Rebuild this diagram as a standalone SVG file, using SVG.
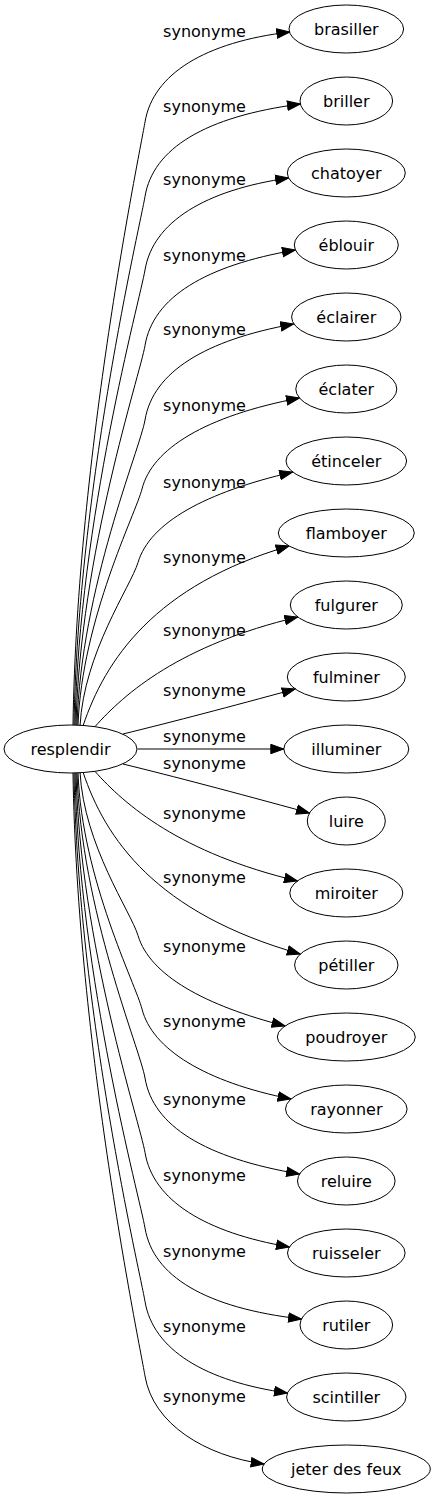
<svg xmlns="http://www.w3.org/2000/svg" width="436" height="1499" viewBox="0 0 436 1499">
<defs>
<style>
text{font-family:"DejaVu Sans","Liberation Sans",sans-serif;font-size:16px;fill:#000}
.n ellipse{fill:none;stroke:#000;stroke-width:1}
.n text{text-anchor:middle}
.e path{fill:none;stroke:#000;stroke-width:1;marker-end:url(#ah)}
.e text{text-anchor:middle}
</style>
<marker id="ah" markerUnits="userSpaceOnUse" markerWidth="14" markerHeight="11" viewBox="-0.5 -0.5 14 10.4" refX="13" refY="4.7" orient="auto">
<path d="M0,0 L13,4.7 L0,9.4 Z" fill="#000" stroke="#000" stroke-width="1"/>
</marker>
</defs>
<rect width="436" height="1499" fill="#fff"/>
<g id="connectors" class="e">
<path d="M73,725 C77,453.6 140.2,150.8 145,122 C153,74 205,42 289.8,32"/>
<text x="204.5" y="37">synonyme</text>
<path d="M74,725 C78,487.2 140.2,225.3 145,196.5 C153,148.5 205,116.5 300.4,104"/>
<text x="204.5" y="111.5">synonyme</text>
<path d="M75,725 C79,520.3 140.2,298.8 145,270 C153,222 205,190 288.6,178"/>
<text x="204.5" y="185">synonyme</text>
<path d="M76,725 C80,554.2 140.2,374.3 145,345.5 C153,297.5 205,265.5 295.4,250"/>
<text x="204.5" y="260.5">synonyme</text>
<path d="M77,725 C81,587.8 140.2,448.8 145,420 C153,372 205,340 293.7,324"/>
<text x="204.5" y="335">synonyme</text>
<path d="M78,725 C82,618.8 136,513 142,489 C152,449 205,416 299.5,398"/>
<text x="204.5" y="411">synonyme</text>
<path d="M80,726 C84,652.4 130.8,586.5 138,562.5 C150,522.5 205,492.5 292.7,472"/>
<text x="204.5" y="487.5">synonyme</text>
<path d="M83,726 C105,660 155,585 289.1,546"/>
<text x="204.5" y="562.5">synonyme</text>
<path d="M95,726.6 C125,693 180,645 297.8,617"/>
<text x="204.5" y="635.5">synonyme</text>
<path d="M123,734 C176,721 229,707 295.2,689"/>
<text x="204.5" y="696">synonyme</text>
<path d="M137.5,749 L283.8,749"/>
<text x="204.5" y="741.5">synonyme</text>
<path d="M123,764 C176,777 229,791 309.5,813"/>
<text x="204.5" y="768.8">synonyme</text>
<path d="M95,771.4 C125,805 180,853 297.4,881"/>
<text x="204.5" y="818.5">synonyme</text>
<path d="M83,772 C105,838 155,913 300.3,954"/>
<text x="204.5" y="882.5">synonyme</text>
<path d="M80,772 C84,845.6 130.8,911.5 138,935.5 C150,975.5 205,1005.5 285,1026"/>
<text x="204.5" y="951.5">synonyme</text>
<path d="M78,773 C82,879.2 136,985 142,1009 C152,1049 205,1082 291,1099"/>
<text x="204.5" y="1026.5">synonyme</text>
<path d="M77,773 C81,910.3 140.2,1049.2 145,1078 C153,1126 205,1158 299.6,1174"/>
<text x="204.5" y="1104.5">synonyme</text>
<path d="M76,773 C80,943.8 140.2,1123.7 145,1152.5 C153,1200.5 205,1232.5 289.4,1247"/>
<text x="204.5" y="1180.5">synonyme</text>
<path d="M75,773 C79,977.8 140.2,1199.2 145,1228 C153,1276 205,1308 301.5,1319"/>
<text x="204.5" y="1256.5">synonyme</text>
<path d="M74,773 C78,1010.8 140.2,1272.7 145,1301.5 C153,1349.5 205,1381.5 287.4,1393"/>
<text x="204.5" y="1331.5">synonyme</text>
<path d="M73,773 C77,1044.4 140.2,1347.2 145,1376 C153,1424 205,1456 264.1,1464"/>
<text x="204.5" y="1402">synonyme</text>
</g>
<g id="node-resplendir" class="n"><ellipse cx="70.5" cy="749" rx="66.5" ry="24"/><text x="70.5" y="754.5">resplendir</text></g>
<g id="node-brasiller" class="n"><ellipse cx="346.3" cy="29" rx="57.3" ry="24"/><text x="346.3" y="34.5">brasiller</text></g>
<g id="node-briller" class="n"><ellipse cx="346.3" cy="101" rx="46.3" ry="24"/><text x="346.3" y="106.5">briller</text></g>
<g id="node-chatoyer" class="n"><ellipse cx="346.3" cy="173" rx="59" ry="24"/><text x="346.3" y="178.5">chatoyer</text></g>
<g id="node-eblouir" class="n"><ellipse cx="346.3" cy="245" rx="52" ry="24"/><text x="346.3" y="250.5">éblouir</text></g>
<g id="node-eclairer" class="n"><ellipse cx="346.3" cy="317" rx="54.7" ry="24"/><text x="346.3" y="322.5">éclairer</text></g>
<g id="node-eclater" class="n"><ellipse cx="346.3" cy="389" rx="50.5" ry="24"/><text x="346.3" y="394.5">éclater</text></g>
<g id="node-etinceler" class="n"><ellipse cx="346.3" cy="461" rx="60.3" ry="24"/><text x="346.3" y="466.5">étinceler</text></g>
<g id="node-flamboyer" class="n"><ellipse cx="346.3" cy="533" rx="68" ry="24"/><text x="346.3" y="538.5">flamboyer</text></g>
<g id="node-fulgurer" class="n"><ellipse cx="346.3" cy="605" rx="56" ry="24"/><text x="346.3" y="610.5">fulgurer</text></g>
<g id="node-fulminer" class="n"><ellipse cx="346.3" cy="677" rx="59" ry="24"/><text x="346.3" y="682.5">fulminer</text></g>
<g id="node-illuminer" class="n"><ellipse cx="346.3" cy="749" rx="62.5" ry="24"/><text x="346.3" y="754.5">illuminer</text></g>
<g id="node-luire" class="n"><ellipse cx="346.3" cy="821" rx="39" ry="24"/><text x="346.3" y="826.5">luire</text></g>
<g id="node-miroiter" class="n"><ellipse cx="346.3" cy="893" rx="56.5" ry="24"/><text x="346.3" y="898.5">miroiter</text></g>
<g id="node-petiller" class="n"><ellipse cx="346.3" cy="965" rx="51.7" ry="24"/><text x="346.3" y="970.5">pétiller</text></g>
<g id="node-poudroyer" class="n"><ellipse cx="346.3" cy="1037" rx="69" ry="24"/><text x="346.3" y="1042.5">poudroyer</text></g>
<g id="node-rayonner" class="n"><ellipse cx="346.3" cy="1109" rx="60.8" ry="24"/><text x="346.3" y="1114.5">rayonner</text></g>
<g id="node-reluire" class="n"><ellipse cx="346.3" cy="1181" rx="48.8" ry="24"/><text x="346.3" y="1186.5">reluire</text></g>
<g id="node-ruisseler" class="n"><ellipse cx="346.3" cy="1253" rx="58.8" ry="24"/><text x="346.3" y="1258.5">ruisseler</text></g>
<g id="node-rutiler" class="n"><ellipse cx="346.3" cy="1325" rx="46.3" ry="24"/><text x="346.3" y="1330.5">rutiler</text></g>
<g id="node-scintiller" class="n"><ellipse cx="346.3" cy="1397" rx="59.7" ry="24"/><text x="346.3" y="1402.5">scintiller</text></g>
<g id="node-jeter-des-feux" class="n"><ellipse cx="346.3" cy="1469" rx="84" ry="24"/><text x="346.3" y="1474.5">jeter des feux</text></g>
</svg>
